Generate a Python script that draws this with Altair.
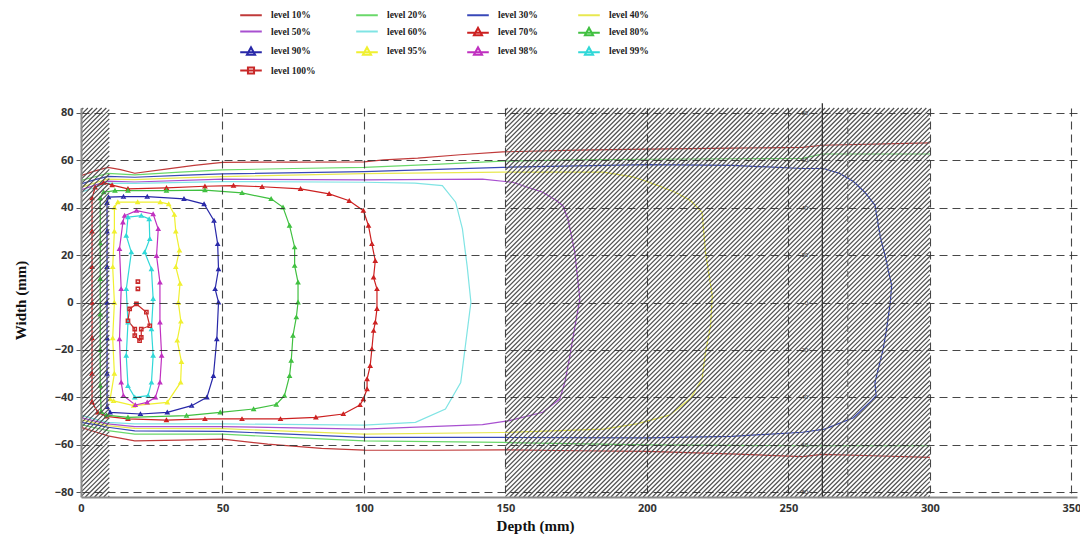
import altair as alt
import numpy as np
import pandas as pd

# ---------------- data ----------------
LEVELS = ["level 10%", "level 20%", "level 30%", "level 40%",
          "level 50%", "level 60%", "level 70%", "level 80%",
          "level 90%", "level 95%", "level 98%", "level 99%",
          "level 100%"]
COLORS = ["#c03a3a", "#6ad86a", "#3848b8", "#e8e850",
          "#a850d0", "#80e4e4", "#cc2020", "#40c040",
          "#2828a8", "#f0f030", "#c030c0", "#30d8d8",
          "#c82828"]
MARKER_OF = {"level 70%": "triangle-up", "level 80%": "triangle-up",
             "level 90%": "triangle-up", "level 95%": "triangle-up",
             "level 98%": "triangle-up", "level 99%": "triangle-up",
             "level 100%": "square"}

L10_TOP = [(0, 53.5), (5, 55.5), (9.5, 57), (14, 56), (19, 54.5), (30, 56.2), (40, 57.8),
           (50, 59.1), (75, 59.2), (100, 59.3), (107, 60.1), (119, 60.9), (134, 62.3),
           (149, 63.5), (175, 64.2), (200, 64.7), (230, 65.1), (255, 65.4), (262, 66.3),
           (300, 67.3)]
L10_BOT = [(0, -52.6), (5, -54.5), (9.5, -56.2), (19, -58.3), (35, -58), (50, -57.6),
           (66, -59.7), (85, -61.5), (100, -62.2), (125, -62.3), (149, -62.1), (175, -62.5),
           (200, -62.8), (232, -63.9), (255, -65), (262, -64), (280, -64.6), (300, -65.3)]
L20_TOP = [(0, 51.5), (5, 53), (9.5, 54.4), (19, 53.8), (35, 55), (50, 55.9), (75, 56.5),
           (100, 57), (125, 58.2), (149, 59.6), (175, 60.1), (200, 60.4), (230, 60.6),
           (255, 60.8), (262, 62.6), (300, 62.6)]
L20_BOT = [(0, -51.5), (5, -52.8), (9.5, -54), (19, -55.5), (50, -55.5), (75, -57),
           (100, -58.3), (149, -59), (200, -60), (255, -60.4), (262, -60.4), (300, -60.4)]
L30 = [(0, 50), (5, 51.8), (9.5, 53.2), (19, 52.8), (35, 53.6), (50, 54.2), (100, 55.2),
       (149, 57.0), (200, 58.1), (230, 57.8), (255, 56.5), (262.5, 56.5), (268, 54.5),
       (273, 51), (277, 46.5), (280.6, 41), (282.4, 28.2), (284.2, 19.7), (286.5, 7.1),
       (286, 0), (284.7, -11.2), (283.5, -19.6), (280.6, -33.7), (281, -39.3), (279.4, -41.4),
       (273, -48.6), (262.8, -53.4), (255, -54.7), (230, -56.4), (200, -57.1), (149, -56.9),
       (100, -56.9), (50, -54.3), (19, -54.1), (9.5, -52.6), (5, -51.5), (0, -50.5)]
L40 = [(0, 48.5), (5, 50.5), (9.5, 52), (19, 51.8), (35, 52.5), (50, 53.1), (100, 54.3),
       (149, 55.0), (184.6, 55), (195, 53), (202.3, 50), (210, 46.5), (215.4, 43),
       (219.5, 38), (220.7, 21.2), (223.1, 2.9), (222.5, -9.8), (220.7, -21), (219.5, -32.3),
       (215.4, -40.5), (208, -47.5), (196.4, -51.2), (184.6, -53.4), (149, -54.8),
       (100, -55.5), (50, -53.2), (19, -53.1), (9.5, -51.9), (5, -50.8), (0, -49.5)]
L50 = [(0, 47.5), (5, 49.5), (9.5, 51.2), (19, 50.8), (50, 52), (100, 51.7), (141.9, 52),
       (152.5, 50.7), (163.2, 46.5), (168, 43), (170.3, 40.8), (172.1, 35.2), (174.5, 21.2),
       (176.3, 1.5), (174, -14), (172.8, -22.4), (171, -33.7), (169.2, -40.7), (163.2, -46.3),
       (151.4, -49.8), (141.9, -51.5), (100, -53.4), (50, -52.3), (19, -52.3), (9.5, -51.2),
       (5, -50), (0, -48.5)]
L60 = [(0, 46.5), (5, 48.5), (9.5, 50.3), (19, 50.2), (50, 51), (100, 50.7), (118, 50.3),
       (127.7, 49.3), (132.4, 42.3), (134.8, 31), (136.5, 15), (137.8, 0.1), (136, -16.8),
       (134.2, -33.7), (128.8, -44.9), (118.2, -50.5), (100, -51.7), (50, -51.2), (19, -51.2),
       (9.5, -50.5), (5, -49.2), (0, -47.5)]
L70 = [(3.9, 44), (5, 48.5), (8, 50.5), (11, 49.5), (16.6, 47.9), (30.2, 48.3), (43.8, 49),
       (53.9, 49.3), (64, 48.8), (77.6, 47.9), (87.7, 45.8), (94.8, 42.9), (99.8, 38.7),
       (101.6, 32.4), (102.8, 24.7), (104, 17.6), (103.4, 10.6), (104.6, 5.7), (104.6, -2.7),
       (104, -8.4), (103.4, -11.9), (102.8, -19.6), (102.2, -26.7), (101.1, -32.3),
       (101.1, -36.5), (99.8, -40.7), (98.6, -43.2), (92.7, -47), (83, -48.4), (70.5, -49.1),
       (56.9, -49.1), (43.8, -49.1), (30.2, -49.6), (16.6, -49.1), (9, -48), (5.9, -46.3),
       (3.9, -42), (3.9, -30), (3.9, -15), (3.9, 0), (3.9, 15), (3.9, 30), (3.9, 44)]
L80 = [(6.8, 44), (8, 46.5), (12, 47.2), (16.6, 47.2), (30.2, 47.2), (43.8, 47.4), (56.9, 46.2),
       (67.2, 43.7), (71.4, 40.1), (73.7, 32.4), (75.5, 23.3), (75.5, 15.5), (76.7, 8.5),
       (76.7, 0.1), (76.1, -6.2), (74.9, -14), (74.3, -24.5), (73.7, -30.9), (71.9, -39.3),
       (69, -43), (61, -44.9), (49.2, -46.3), (37.3, -47.7), (16.6, -48.4), (9, -47.5),
       (7.1, -46), (6.8, -35), (6.8, -20), (6.8, -5), (6.8, 10), (6.8, 25), (6.8, 44)]
L90 = [(9.2, 42), (9.7, 44.4), (15, 44.6), (23.4, 44.6), (36.4, 43.7), (43.5, 41.5), (47, 34.5),
       (48.3, 24.7), (48.6, 14.1), (47.4, 5.7), (48.6, 0.1), (48, -15.4), (46.8, -30.9),
       (44.5, -40), (39.1, -43.5), (30.5, -46.3), (21, -47), (10.3, -46.3), (9.2, -44),
       (9.2, -30), (9.2, -15), (9.2, 0), (9.2, 15), (9.2, 30), (9.2, 42)]
L95 = [(11.8, 40), (13, 42.3), (20, 42.3), (28, 42.3), (31, 41.5), (33, 37), (33.5, 30),
       (34.8, 22), (33.5, 15), (35, 8), (34.4, 0), (35.3, -8), (34, -16), (35.5, -25),
       (35.2, -33.7), (30.5, -42.1), (18.6, -43.5), (11.5, -41.5), (10.3, -40.7), (11.8, -30),
       (11.2, -15), (11.8, 0), (11.2, 15), (11.8, 30), (11.8, 40)]
L98 = [(15.4, 36.6), (19.6, 38.7), (25.5, 37.3), (27.3, 31), (26.7, 19.7), (27.9, 8.5),
       (27.9, -8.4), (28.5, -22.4), (27.9, -33.7), (26.3, -40), (23.4, -42.1), (19.2, -43.2),
       (15, -39.3), (14.2, -33.7), (13.6, -15.4), (14.2, 5.7), (13.6, 22.6), (14.8, 33.8),
       (15.4, 36.6)]
L99 = [(16.6, 36), (21.3, 36.6), (24.1, 35.2), (24.3, 26.8), (22.5, 21.2), (24.9, 14.1),
       (25.5, 1.5), (24.9, -11.2), (25.5, -22.4), (24.9, -33.7), (23.7, -39.3), (19, -40),
       (16.6, -35.1), (16, -22.4), (16.6, -8.4), (16, 5.7), (17.8, 21.2), (16, 28.2),
       (16.6, 36)]
L100_LOOP = [(19.6, -0.6), (23.1, -4.1), (24.3, -9.8), (21.3, -11.2), (21.3, -14.7),
             (20.7, -16.1), (19, -14), (19, -11.2), (16.6, -7.7), (17.2, -2.7), (19.6, -0.6)]
L100_DOT1 = [(20.1, 8.8), (20.1, 8.0)]
L100_DOT2 = [(20.1, 5.7), (20.1, 5.0)]

SEGMENTS = [("level 10%", "top", L10_TOP), ("level 10%", "bot", L10_BOT),
            ("level 20%", "top", L20_TOP), ("level 20%", "bot", L20_BOT),
            ("level 30%", "a", L30), ("level 40%", "a", L40), ("level 50%", "a", L50),
            ("level 60%", "a", L60), ("level 70%", "a", L70), ("level 80%", "a", L80),
            ("level 90%", "a", L90), ("level 95%", "a", L95), ("level 98%", "a", L98),
            ("level 99%", "a", L99), ("level 100%", "a", L100_LOOP),
            ("level 100%", "d1", L100_DOT1), ("level 100%", "d2", L100_DOT2)]

# shaded (hatched) zones, x-ranges in mm
HATCH_X0 = [0, 150]
HATCH_X1 = [10, 300]
# pasted inset: axis line and grid line
INSET_RULE_X = [262]
INSET_GRID_X = [271]
INSET_LABELS = ["80", "60", "40", "20", "0", "-20", "-40", "-60", "-80"]
INSET_LABEL_Y = [80, 60, 40, 20, 0, -20, -40, -60, -80]

LEGEND_SHAPES = (["M-1.2,0H1.2"] * 6
                 + ["M-1.2,0.15H1.2M-0.45,0.42L0,-0.4L0.45,0.42Z"] * 6
                 + ["M-1.2,0H1.2M-0.34,-0.34H0.34V0.34H-0.34Z"])

XDOM = [0, 352]
YDOM = [-82, 82]
W, H = 996, 389

# ---------------- build tables ----------------
rows = []
for lev, sid, pts in SEGMENTS:
    for i, (x, y) in enumerate(pts):
        rows.append(dict(level=lev, seg=f"{lev}-{sid}", i=i, x=x, y=y))
df = pd.DataFrame(rows)

mrows = []
for lev, sid, pts in SEGMENTS:
    if lev not in MARKER_OF:
        continue
    n = len(pts)
    if n > 2 and pts[0] == pts[-1]:
        n -= 1
    if sid.startswith("d"):
        n = 1
    for x, y in pts[:n]:
        mrows.append(dict(level=lev, mk=MARKER_OF[lev], x=x, y=y))
dfm = pd.DataFrame(mrows)

# hatch lines ("/" direction) clipped to each zone
PXX = W / (XDOM[1] - XDOM[0])
PXY = H / (YDOM[1] - YDOM[0])
STEP = 4.6
hrows = []
for x0, x1 in zip(HATCH_X0, HATCH_X1):
    y0, y1 = YDOM
    kmin = PXX * x0 - PXY * y1
    kmax = PXX * x1 - PXY * y0
    for k in np.arange(kmin + STEP / 2, kmax, STEP):
        xa = max(x0, (k + PXY * y0) / PXX)
        xb = min(x1, (k + PXY * y1) / PXX)
        if xb <= xa:
            continue
        hrows.append(dict(x=xa, y=(PXX * xa - k) / PXY, x2=xb, y2=(PXX * xb - k) / PXY))
dfh = pd.DataFrame(hrows)

df_inset_rule = pd.DataFrame(dict(x=INSET_RULE_X, y=[YDOM[0]], y2=[YDOM[1] + 2]))
df_inset_grid = pd.DataFrame(dict(x=INSET_GRID_X, y=[YDOM[0]], y2=[YDOM[1]]))
df_inset_lab = pd.DataFrame(dict(t=INSET_LABELS, y=INSET_LABEL_Y, x=[257] * len(INSET_LABELS)))
df_leg = pd.DataFrame(dict(level=LEVELS))

# ---------------- scales / axes / legend ----------------
xscale = alt.Scale(domain=XDOM, nice=False, zero=False)
yscale = alt.Scale(domain=YDOM, nice=False, zero=False)
cscale = alt.Scale(domain=LEVELS, range=COLORS)
sscale = alt.Scale(domain=LEVELS, range=LEGEND_SHAPES)

xaxis = alt.Axis(values=[0, 50, 100, 150, 200, 250, 300, 350], grid=True,
                 gridDash=[8, 5], gridColor="#333333", gridWidth=1.1, gridOpacity=0.9,
                 domainColor="#8a8a8a", domainWidth=2, ticks=False,
                 labelFont="Open Sans", labelFontWeight="bold", labelFontSize=11,
                 labelColor="#333333", labelPadding=5, labelFlush=False,
                 title="Depth (mm)", titleFont="Liberation Serif", titleFontSize=15,
                 titleFontWeight="bold", titleColor="#111111",
                 titleX=454, titleY=28, titleAlign="center", titleBaseline="middle",
                 zindex=1)
yaxis = alt.Axis(values=[-80, -60, -40, -20, 0, 20, 40, 60, 80], grid=True,
                 gridDash=[8, 5], gridColor="#333333", gridWidth=1.1, gridOpacity=0.9,
                 domainColor="#8a8a8a", domainWidth=2, tickSize=5, tickColor="#555555",
                 labelFont="Open Sans", labelFontWeight="bold", labelFontSize=11,
                 labelColor="#333333", labelPadding=3, labelFlush=False,
                 title="Width (mm)", titleFont="Liberation Serif", titleFontSize=15,
                 titleFontWeight="bold", titleColor="#111111",
                 titleX=-61, titleY=192, titleAngle=270, titleAlign="center",
                 titleBaseline="middle", zindex=1)

LEG = alt.Legend(orient="none", direction="horizontal", legendX=160, legendY=-103,
                 columns=4, columnPadding=36, rowPadding=1.5, symbolSize=324,
                 symbolStrokeWidth=2, labelFont="Liberation Serif", labelFontWeight="bold",
                 labelFontSize=9.5, labelColor="#222222", labelOffset=10, title=None,
                 padding=0)

X = alt.X("x:Q", scale=xscale, axis=xaxis)
Y = alt.Y("y:Q", scale=yscale, axis=yaxis)
C = alt.Color("level:N", scale=cscale, legend=LEG)

lines = alt.Chart(df).mark_line(strokeWidth=1.2, clip=True).encode(
    x=X, y=Y, color=C, detail="seg:N", order="i:Q")

tri = alt.Chart(dfm).transform_filter(alt.datum.mk == "triangle-up").mark_point(
    shape="triangle-up", filled=False, size=11, strokeWidth=1.4, opacity=1).encode(
    x=X, y=Y, color=C)
sq = alt.Chart(dfm).transform_filter(alt.datum.mk == "square").mark_point(
    shape="square", filled=False, size=11, strokeWidth=1.4, opacity=1).encode(
    x=X, y=Y, color=C)

hatch = alt.Chart(dfh).mark_rule(color="#505050", strokeWidth=1.2).encode(
    x=X, y=Y, x2="x2:Q", y2="y2:Q")

inset_rule = alt.Chart(df_inset_rule).mark_rule(color="#333333", strokeWidth=1.3).encode(
    x=X, y=Y, y2="y2:Q")
inset_grid = alt.Chart(df_inset_grid).mark_rule(color="#555555", strokeWidth=1,
                                                strokeDash=[6, 5]).encode(
    x=X, y=Y, y2="y2:Q")
inset_lab = alt.Chart(df_inset_lab).mark_text(fontSize=6, color="#333333",
                                              align="right", baseline="middle").encode(
    x=X, y=Y, text="t:N")

legend_layer = alt.Chart(df_leg).mark_point(filled=False).encode(
    color=C,
    shape=alt.Shape("level:N", scale=sscale, legend=LEG)
).transform_filter("false")

chart = alt.layer(lines, tri, sq, hatch, inset_rule, inset_grid, inset_lab, legend_layer).properties(
    width=W, height=H,
    autosize=alt.AutoSizeParams(type="none"),
    padding={"left": 73, "top": 100, "right": 3, "bottom": 37},
).configure_view(stroke=None)

chart.save("out.html", embed_options={"renderer": "svg", "actions": False})
